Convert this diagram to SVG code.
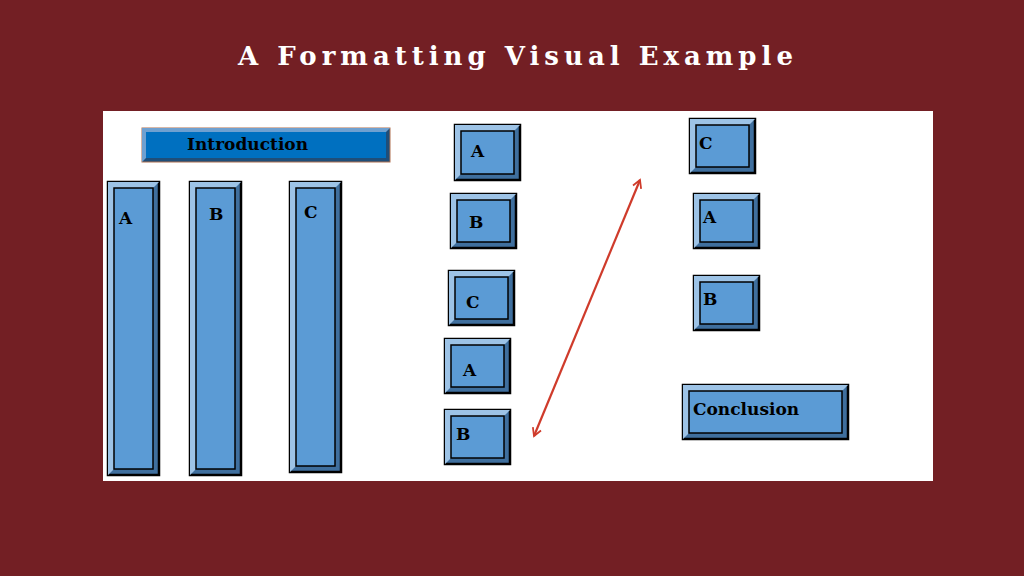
<svg xmlns="http://www.w3.org/2000/svg" width="1024" height="576" viewBox="0 0 1024 576">
<style>
.o{fill:#3f6f9e;stroke:#000;stroke-width:2.5}
.l{fill:#9dc3e6}
.i{fill:#5b9bd5;stroke:#000;stroke-width:1.5}
.t{font-family:"DejaVu Serif","Liberation Serif",serif;font-weight:bold;font-size:17px;fill:#000}
</style>
<defs>
<marker id="ah" viewBox="0 0 10 10" refX="8" refY="5" markerWidth="5" markerHeight="5" orient="auto-start-reverse">
<path d="M1,1 L8,5 L1,9" fill="none" stroke="#cf3b2b" stroke-width="1.6"/>
</marker>
</defs>
<rect width="1024" height="576" fill="#731f24"/>
<text x="518" y="65" text-anchor="middle" font-family="DejaVu Serif,serif" font-weight="bold" font-size="26" letter-spacing="5" fill="#fff">A Formatting Visual Example</text>
<rect x="103" y="111" width="830" height="370" fill="#fff"/>
<g id="intro">
<rect x="142" y="128" width="248" height="34" fill="#1f4e79" stroke="#b07050" stroke-width="1"/>
<polygon points="142,128 390,128 386,132 146,132 146,158 142,162" fill="#6fa0d0"/>
<rect x="146" y="132" width="240" height="26" fill="#0070c0"/>
<text class="t" x="187" y="150" font-size="16">Introduction</text>
</g>
<g id="tallA"><rect class="o" x="108" y="182" width="51" height="293"/><polygon class="l" points="108,182 159,182 153,188 114,188 114,469 108,475"/><rect class="i" x="114" y="188" width="39" height="281"/><text class="t" x="119" y="224">A</text></g>
<g id="tallB"><rect class="o" x="190" y="182" width="51" height="293"/><polygon class="l" points="190,182 241,182 235,188 196,188 196,469 190,475"/><rect class="i" x="196" y="188" width="39" height="281"/><text class="t" x="209" y="220">B</text></g>
<g id="tallC"><rect class="o" x="290" y="182" width="51" height="290"/><polygon class="l" points="290,182 341,182 335,188 296,188 296,466 290,472"/><rect class="i" x="296" y="188" width="39" height="278"/><text class="t" x="304" y="218">C</text></g>
<g id="mA"><rect class="o" x="455" y="125" width="65" height="55"/><polygon class="l" points="455,125 520,125 514,131 461,131 461,174 455,180"/><rect class="i" x="461" y="131" width="53" height="43"/><text class="t" x="471" y="157">A</text></g>
<g id="mB"><rect class="o" x="451" y="194" width="65" height="54"/><polygon class="l" points="451,194 516,194 510,200 457,200 457,242 451,248"/><rect class="i" x="457" y="200" width="53" height="42"/><text class="t" x="469" y="228">B</text></g>
<g id="mC"><rect class="o" x="449" y="271" width="65" height="54"/><polygon class="l" points="449,271 514,271 508,277 455,277 455,319 449,325"/><rect class="i" x="455" y="277" width="53" height="42"/><text class="t" x="466" y="308">C</text></g>
<g id="mA2"><rect class="o" x="445" y="339" width="65" height="54"/><polygon class="l" points="445,339 510,339 504,345 451,345 451,387 445,393"/><rect class="i" x="451" y="345" width="53" height="42"/><text class="t" x="463" y="376">A</text></g>
<g id="mB2"><rect class="o" x="445" y="410" width="65" height="54"/><polygon class="l" points="445,410 510,410 504,416 451,416 451,458 445,464"/><rect class="i" x="451" y="416" width="53" height="42"/><text class="t" x="456" y="440">B</text></g>
<g id="rC"><rect class="o" x="690" y="119" width="65" height="54"/><polygon class="l" points="690,119 755,119 749,125 696,125 696,167 690,173"/><rect class="i" x="696" y="125" width="53" height="42"/><text class="t" x="699" y="149">C</text></g>
<g id="rA"><rect class="o" x="694" y="194" width="65" height="54"/><polygon class="l" points="694,194 759,194 753,200 700,200 700,242 694,248"/><rect class="i" x="700" y="200" width="53" height="42"/><text class="t" x="703" y="223">A</text></g>
<g id="rB"><rect class="o" x="694" y="276" width="65" height="54"/><polygon class="l" points="694,276 759,276 753,282 700,282 700,324 694,330"/><rect class="i" x="700" y="282" width="53" height="42"/><text class="t" x="703" y="305">B</text></g>
<g id="concl"><rect class="o" x="683" y="385" width="165" height="54"/><polygon class="l" points="683,385 848,385 842,391 689,391 689,433 683,439"/><rect class="i" x="689" y="391" width="153" height="42"/><text class="t" x="693" y="415">Conclusion</text></g>
<g id="connectors">
<line x1="534" y1="436" x2="640" y2="180" stroke="#cf3b2b" stroke-width="2.2" marker-start="url(#ah)" marker-end="url(#ah)"/>
</g>
</svg>
